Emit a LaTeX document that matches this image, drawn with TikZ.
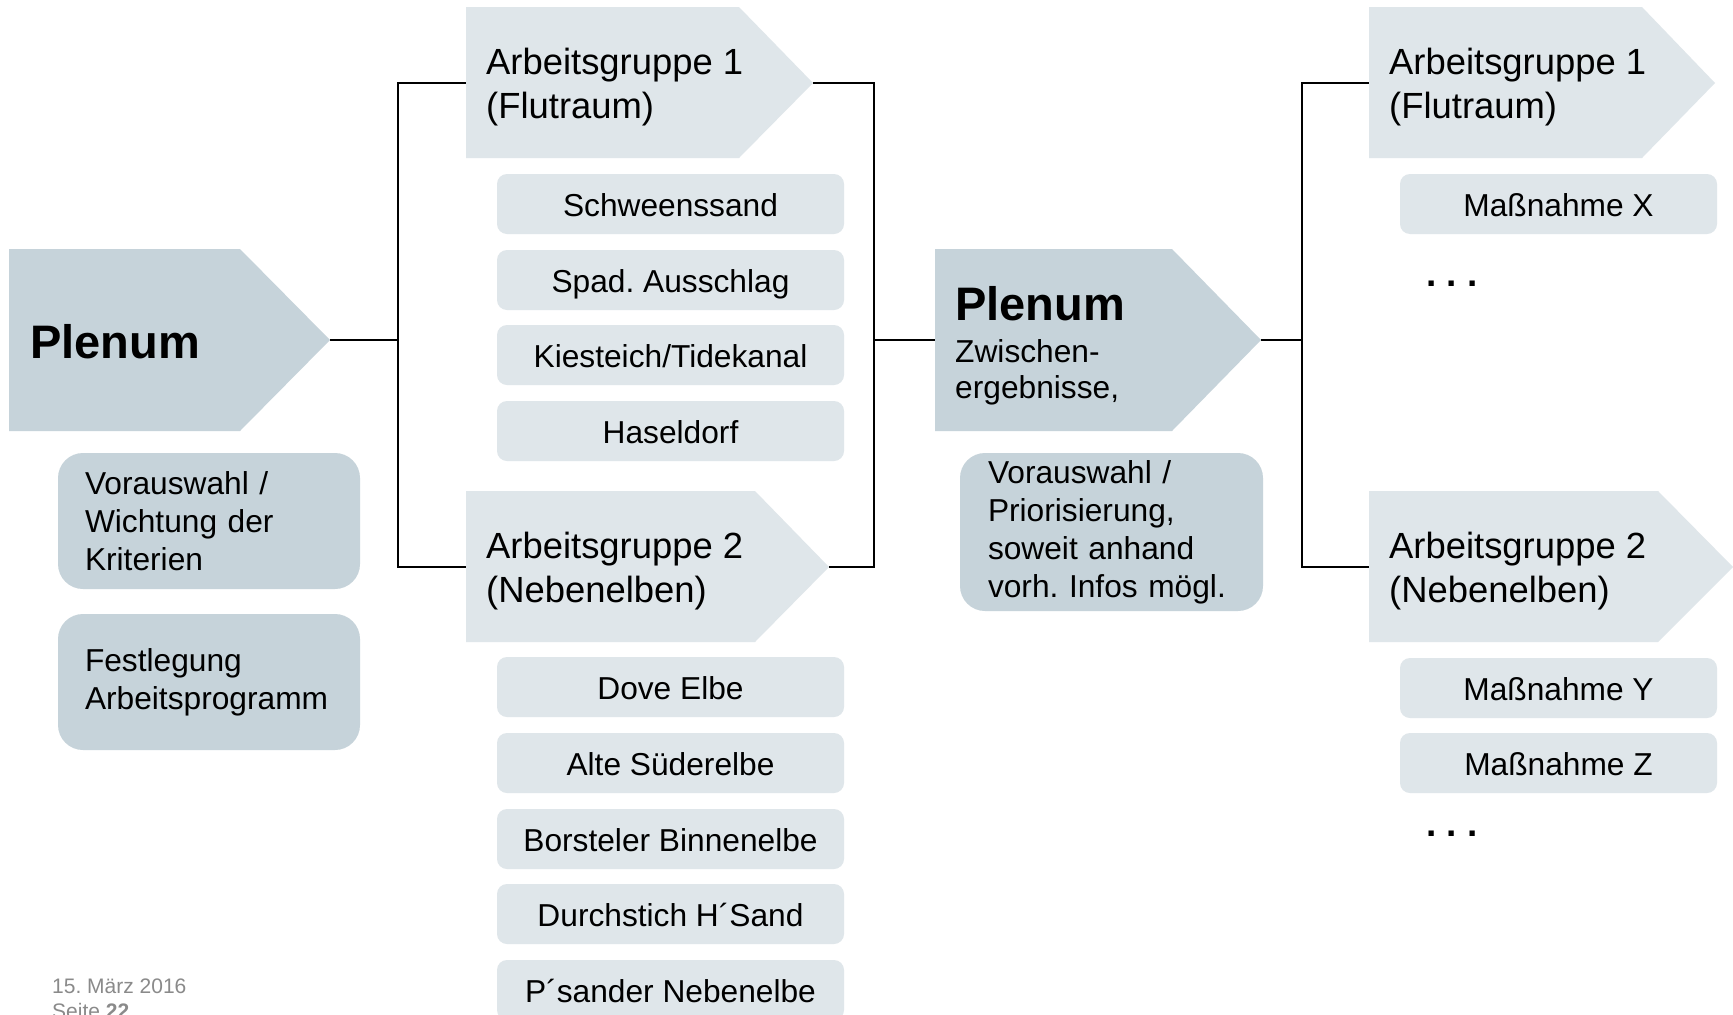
\documentclass[tikz,border=0pt]{standalone}
\usepackage{fontspec}
\setmainfont{Liberation Sans}
\frenchspacing
\newcommand\fsz[2]{\fontsize{#1}{#2}\selectfont}
\definecolor{plen}{HTML}{C6D3DA}
\definecolor{lite}{HTML}{DFE6EA}
\definecolor{foot}{HTML}{8A8A8A}
\begin{document}
\begin{tikzpicture}[x=1pt,y=-1pt,
  conn/.style={line width=1.8pt,black},
  item/.style={rectangle,rounded corners=10pt,fill=lite,minimum width=347pt,minimum height=60pt,inner sep=0pt,text height=25pt,text depth=0pt,font={\fsz{31.7}{38}}},
  ritem/.style={item,minimum width=317pt},
  bigbox/.style={rectangle,rounded corners=25pt,fill=plen,inner xsep=27pt,inner ysep=0pt,align=left,font={\fsz{31.7}{38}}},
  chevtext/.style={anchor=west,align=left,inner sep=0pt,font={\fsz{36.4}{43.5}}},
  plentext/.style={anchor=base west,inner sep=0pt,font={\fsz{47}{50}\bfseries}},
  subtext/.style={anchor=base west,inner sep=0pt,font={\fsz{31.7}{35}}},
  foottext/.style={anchor=base west,inner sep=0pt,text=foot,font={\fsz{21}{25}}},
  dots/.style={anchor=base west,inner sep=0pt,font={\fsz{37}{40}\bfseries}}
]
\useasboundingbox (0,0) rectangle (1733,1015);
\fill[white] (0,0) rectangle (1733,1015);

% named connection points
\coordinate (p1tip) at (330,340);
\coordinate (j1) at (398,340);
\coordinate (ag1aW) at (466,83);
\coordinate (ag2aW) at (466,567);
\coordinate (ag1aT) at (813,83);
\coordinate (ag2aT) at (829,567);
\coordinate (j2) at (874,340);
\coordinate (p2W) at (935,340);
\coordinate (p2tip) at (1261,340);
\coordinate (j3) at (1302,340);
\coordinate (ag1bW) at (1369,83);
\coordinate (ag2bW) at (1369,567);

% connectors
\draw[conn] (p1tip) -- (j1);
\draw[conn] (ag1aW) -| (j1) |- (ag2aW);
\draw[conn] (ag1aT) -| (j2) |- (ag2aT);
\draw[conn] (j2) -- (p2W);
\draw[conn] (p2tip) -- (j3);
\draw[conn] (ag1bW) -| (j3) |- (ag2bW);

% chevrons
\fill[plen] (9,249) -- (240,249) -- (p1tip) -- (240,431) -- (9,431) -- cycle;
\fill[lite] (466,7) -- (739,7) -- (ag1aT) -- (739,158) -- (466,158) -- cycle;
\fill[lite] (466,491) -- (755,491) -- (ag2aT) -- (755,642) -- (466,642) -- cycle;
\fill[plen] (935,249) -- (1172,249) -- (p2tip) -- (1172,431) -- (935,431) -- cycle;
\fill[lite] (1369,7) -- (1642,7) -- (1715,83) -- (1642,158) -- (1369,158) -- cycle;
\fill[lite] (1369,491) -- (1658,491) -- (1733,567) -- (1658,642) -- (1369,642) -- cycle;

% chevron texts
\node[plentext] (p1t) at (30,358) {Plenum};
\node[chevtext] (ag1at) at (486,87) {Arbeitsgruppe 1\\(Flutraum)};
\node[chevtext] (ag2at) at (486,571) {Arbeitsgruppe 2\\(Nebenelben)};
\node[plentext] (p2t) at (955,320) {Plenum};
\node[subtext] (p2s1) at (955,362) {Zwischen-};
\node[subtext] (p2s2) at (955,398) {ergebnisse,};
\node[chevtext] (ag1bt) at (1389,87) {Arbeitsgruppe 1\\(Flutraum)};
\node[chevtext] (ag2bt) at (1389,571) {Arbeitsgruppe 2\\(Nebenelben)};

% left boxes
\node[bigbox,minimum width=302pt,minimum height=136pt,text width=248pt] (vor1) at (209,521) {Vorauswahl /\\Wichtung der\\Kriterien};
\node[bigbox,minimum width=302pt,minimum height=136pt,text width=248pt] (fest) at (209,682) {Festlegung\\Arbeitsprogramm};
\node[bigbox,minimum width=303pt,minimum height=158pt,text width=247pt] (vor2) at (1111.5,532) {Vorauswahl /\\Priorisierung,\\soweit anhand\\vorh. Infos mögl.};

% middle items
\node[item] (m1) at (670.5,204) {Schweenssand};
\node[item] (m2) at (670.5,280) {Spad. Ausschlag};
\node[item] (m3) at (670.5,355) {Kiesteich/Tidekanal};
\node[item] (m4) at (670.5,431) {Haseldorf};
\node[item] (m5) at (670.5,687) {Dove Elbe};
\node[item] (m6) at (670.5,763) {Alte Süderelbe};
\node[item] (m7) at (670.5,839) {Borsteler Binnenelbe};
\node[item] (m8) at (670.5,914) {Durchstich H´Sand};
\node[item] (m9) at (670.5,990) {P´sander Nebenelbe};

% right items
\node[ritem] (r1) at (1558.5,204) {Maßnahme X};
\node[dots] (d1) at (1426,286) {. . .};
\node[ritem] (r2) at (1558.5,688) {Maßnahme Y};
\node[ritem] (r3) at (1558.5,763) {Maßnahme Z};
\node[dots] (d2) at (1426,836) {. . .};

% footer
\node[foottext] (date) at (52,993) {15. März 2016};
\node[foottext] (page) at (52,1018) {Seite \textbf{22}};
\end{tikzpicture}
\end{document}
